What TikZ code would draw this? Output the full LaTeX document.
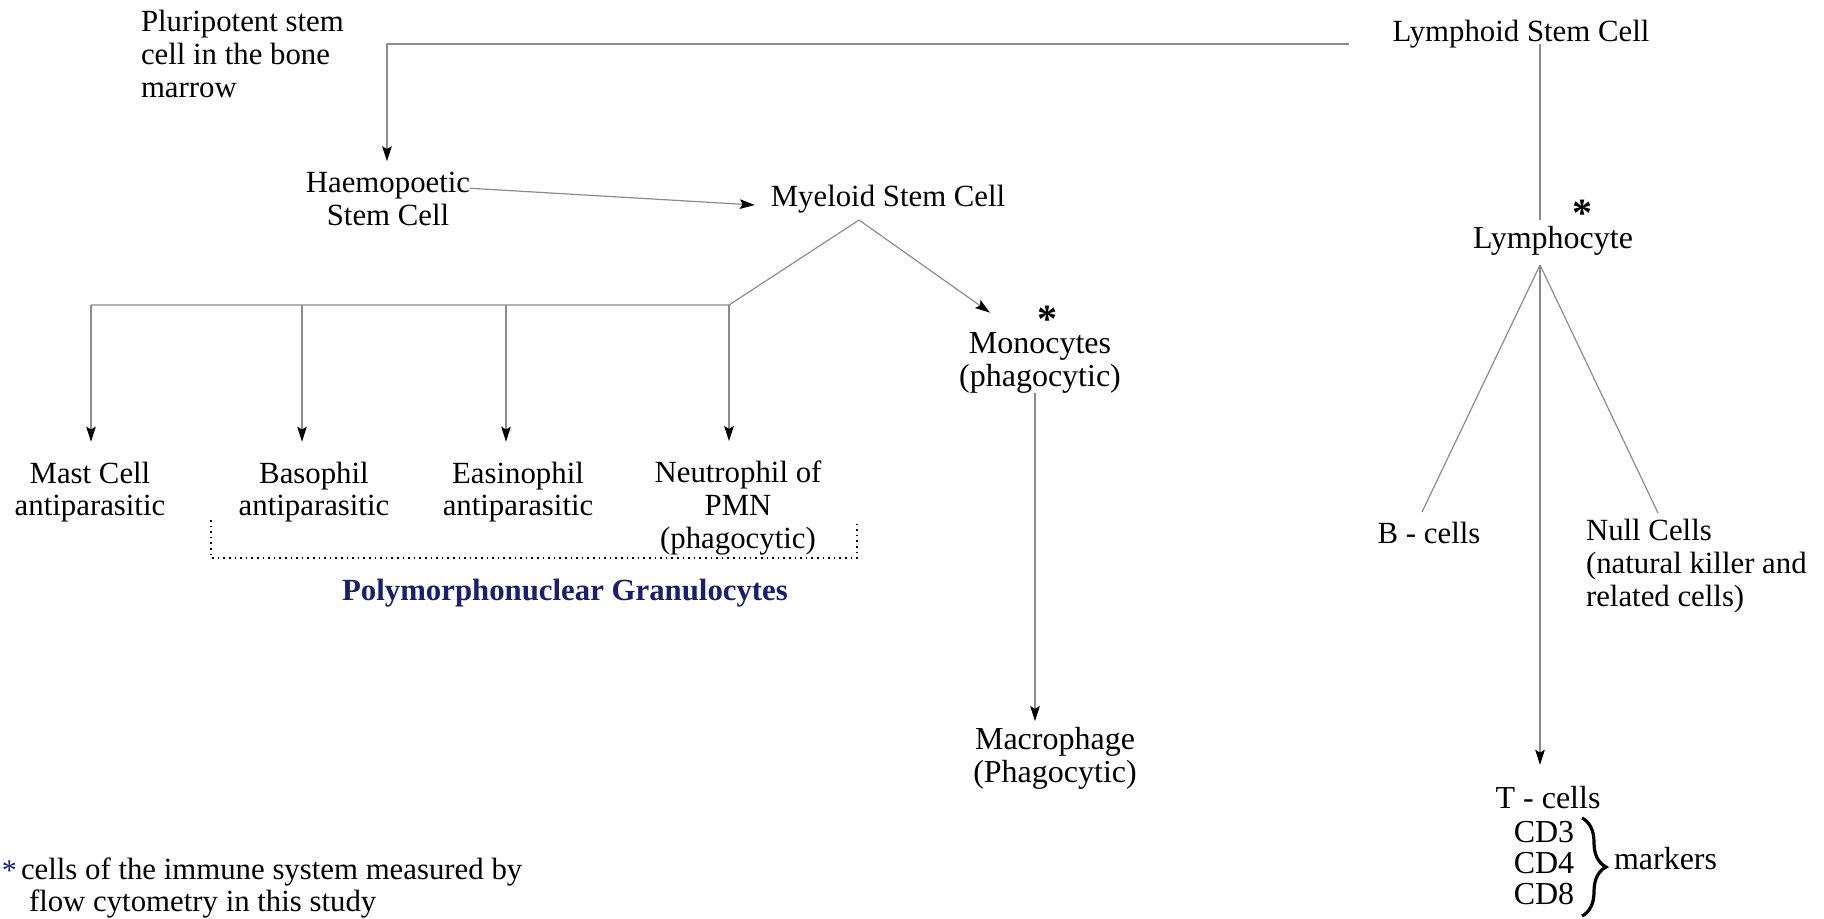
\documentclass[tikz,border=0pt]{standalone}
\usepackage{fontspec}
\setmainfont{Liberation Serif}
\usetikzlibrary{arrows.meta,decorations.pathreplacing}
\definecolor{linegray}{RGB}{140,140,140}
\definecolor{navy}{RGB}{25,30,110}
\begin{document}
\begin{tikzpicture}[x=0.5pt,y=-0.5pt,
  every node/.style={inner sep=0pt, outer sep=0pt, align=center,
    font=\fontsize{15.4}{16.4}\selectfont},
  wide/.style={font=\fontsize{16}{16.4}\selectfont},
  link/.style={draw=linegray, line width=0.6pt},
  arrowlink/.style={link, -{Stealth[length=7.5pt,width=4.8pt,inset=1.4pt,color=black]}},
  star/.style={font=\fontsize{20}{20}\selectfont\bfseries},
  groupname/.style={font=\fontsize{15.4}{16.4}\selectfont\bfseries, text=navy}
]
\useasboundingbox (0,0) rectangle (1824,918);

% cell names
\node[align=left, anchor=west] (pluri) at (141,54) {Pluripotent stem\\cell in the bone\\marrow};
\node (haemo) at (388,199) {Haemopoetic\\Stem Cell};
\node (myeloid) at (888,199) {Myeloid Stem Cell};
\node (lymphoid) at (1521,34) {Lymphoid Stem Cell};
\node[wide] (lympho) at (1553,241) {Lymphocyte};
\node[star] (lstar) at (1582,213) {*};
\node (mast) at (90,492) {Mast Cell\\antiparasitic};
\node (baso) at (314,492) {Basophil\\antiparasitic};
\node (easino) at (518,492) {Easinophil\\antiparasitic};
\node (neutro) at (738,508) {Neutrophil of\\PMN\\(phagocytic)};
\node[groupname] (pmn) at (565,593) {Polymorphonuclear Granulocytes};
\node[wide] (mono) at (1040,363) {Monocytes\\(phagocytic)};
\node[star] (mstar) at (1047,319) {*};
\node[wide] (macro) at (1055,758) {Macrophage\\(Phagocytic)};
\node (bcells) at (1429,533) {B - cells};
\node[align=left, anchor=west] (null) at (1586,566) {Null Cells\\(natural killer and\\related cells)};
\node[wide] (tcells) at (1548,798) {T - cells};
\node[wide, font=\fontsize{16}{15.5}\selectfont] (cd) at (1544,863) {CD3\\CD4\\CD8};
\node[wide, anchor=west] (markers) at (1614,859) {markers};

% footnote
\node[text=navy, anchor=west, font=\fontsize{15}{15}\selectfont] (fstar) at (2,871) {*};
\node[align=left, anchor=west] (foot) at (21,888) {cells of the immune system measured by\\\hspace*{4pt}flow cytometry in this study};

% junction points
\coordinate (split) at (387,44);
\coordinate (lymphend) at (1349,44);
\coordinate (mapex) at (859,220);
\coordinate (gright) at (729,305);
\coordinate (gleft) at (91,305);
\coordinate (ltop) at (1540,44);
\coordinate (lbot) at (1540,220);
\coordinate (lapex) at (1540,265);
\coordinate (bend) at (1422,512);
\coordinate (nend) at (1658,513);

% stem cell lineage
\draw[link] (lymphend) -- (split);
\draw[arrowlink] (split) -- ([yshift=5.5pt]haemo.north -| split);
\draw[arrowlink] ([yshift=-8pt]haemo.north east) -- ([xshift=-8pt,yshift=-3pt]myeloid.west);

% myeloid branch
\draw[link] (mapex) -- (gright) -- (gleft);
\draw[arrowlink] (mapex) -- ([xshift=-25pt,yshift=10pt]mono.north);
\draw[arrowlink] (gleft) -- ([yshift=10pt]mast.north -| gleft);
\draw[arrowlink] (gleft -| 302,0) -- ([yshift=10pt]baso.north -| 302,0);
\draw[arrowlink] (gleft -| 506,0) -- ([yshift=10pt]easino.north -| 506,0);
\draw[arrowlink] (gright) -- ([yshift=10pt]neutro.north -| gright);
\draw[arrowlink] ([xshift=-2.5pt]mono.south) -- ([xshift=-2.5pt,yshift=3pt]mono.south |- macro.north);

% granulocyte group bracket
\draw[dotted, line width=0.8pt] (211,520) -- (211,558) -- (857,558) -- (857,520);

% lymphoid branch
\draw[link] (ltop) -- (lbot);
\draw[link] (lapex) -- (bend);
\draw[link] (lapex) -- (nend);
\draw[arrowlink] (lapex) -- ([yshift=11pt]lapex |- tcells.north);

% marker brace
\draw[decorate, decoration={brace, amplitude=12pt}, line width=1.6pt] (1582,818) -- (1582,916);
\end{tikzpicture}
\end{document}
